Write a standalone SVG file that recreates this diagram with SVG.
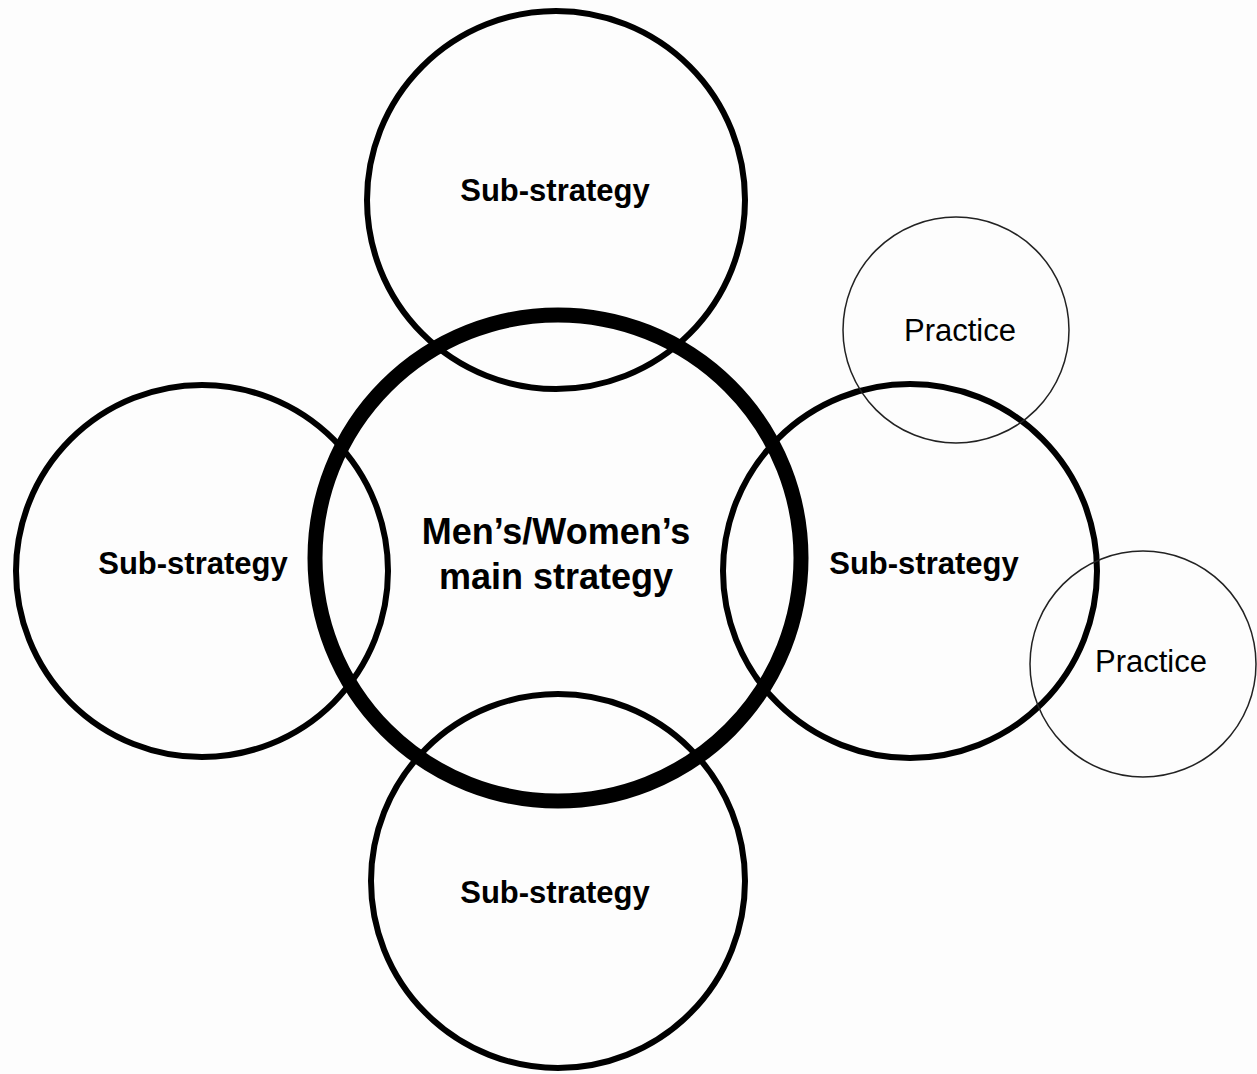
<svg xmlns="http://www.w3.org/2000/svg" width="1257" height="1074" viewBox="0 0 1257 1074">
<style>
.c{fill:none;stroke:#000}
.sub{stroke-width:6}
.main{stroke-width:15}
.prac{stroke-width:1.5;stroke:#222}
text{font-family:"Liberation Sans",Arial,sans-serif;fill:#000;text-anchor:middle}
.b{font-weight:bold;font-size:31px}
.m{font-weight:bold;font-size:36px}
.p{font-size:31px}
</style>
<rect width="1257" height="1074" fill="#fdfdfd"/>
<g id="sub-top"><circle class="c sub" cx="556" cy="200" r="189"/><text class="b" x="555" y="201">Sub-strategy</text></g>
<g id="sub-left"><circle class="c sub" cx="202" cy="571" r="186"/><text class="b" x="193" y="574">Sub-strategy</text></g>
<g id="sub-right"><circle class="c sub" cx="910" cy="571" r="187"/><text class="b" x="924" y="574">Sub-strategy</text></g>
<g id="sub-bottom"><circle class="c sub" cx="558" cy="881" r="187"/><text class="b" x="555" y="903">Sub-strategy</text></g>
<g id="main"><circle class="c main" cx="558" cy="558" r="243"/><text class="m" x="556" y="544">Men’s/Women’s</text><text class="m" x="556" y="589">main strategy</text></g>
<g id="practice-top"><circle class="c prac" cx="956" cy="330" r="113"/><text class="p" x="960" y="341">Practice</text></g>
<g id="practice-bottom"><circle class="c prac" cx="1143" cy="664" r="113"/><text class="p" x="1151" y="672">Practice</text></g>
<g id="connectors"/>
</svg>
